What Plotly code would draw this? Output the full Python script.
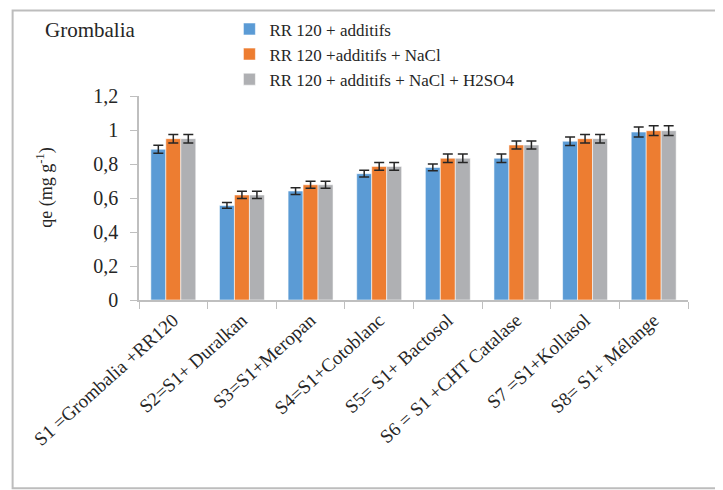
import plotly.graph_objects as go

categories = ["S1 =Grombalia +RR120", "S2=S1+ Duralkan", "S3=S1+Meropan", "S4=S1+Cotoblanc",
              "S5= S1+ Bactosol", "S6 = S1 +CHT Catalase", "S7 =S1+Kollasol", "S8= S1+ Mélange"]
series_names = ["RR 120 + additifs", "RR 120 +additifs + NaCl", "RR 120 + additifs + NaCl + H2SO4"]
vals_additifs = [0.887, 0.556, 0.641, 0.743, 0.780, 0.834, 0.934, 0.988]
vals_nacl = [0.949, 0.618, 0.678, 0.786, 0.834, 0.912, 0.949, 0.996]
vals_h2so4 = [0.949, 0.618, 0.678, 0.786, 0.834, 0.912, 0.949, 0.996]
err_additifs = [0.024, 0.017, 0.020, 0.020, 0.020, 0.025, 0.025, 0.029]
err_nacl = [0.025, 0.021, 0.021, 0.023, 0.025, 0.024, 0.025, 0.029]
err_h2so4 = [0.025, 0.021, 0.021, 0.023, 0.025, 0.024, 0.025, 0.029]
colors = ["#5B9BD5", "#ED7D31", "#AFB0B3"]

FONT = "Liberation Serif, Times New Roman, Times, serif"
TXT = "#262626"
fig = go.Figure()
for name, v, e, c in zip(series_names, [vals_additifs, vals_nacl, vals_h2so4],
                         [err_additifs, err_nacl, err_h2so4], colors):
    fig.add_trace(go.Bar(
        x=categories, y=v, name=name,
        marker=dict(color=c, line=dict(color="rgba(255,255,255,0.7)", width=0.8)),
        error_y=dict(type="data", array=e, color=TXT, thickness=1.5, width=5),
    ))

OFF = 8  # page body margin
W, H = 723 - OFF, 490 - OFF
L, R, T, B = 138.5 - OFF, 35, 95.7 - OFF, 190
pw, ph = W - L - R, H - T - B

def px(x):
    return (x - OFF - L) / pw

def py(y):
    return (H - B - (y - OFF)) / ph

fig.update_layout(
    width=W, height=H,
    margin=dict(l=L, r=R, t=T, b=B, pad=0, autoexpand=False),
    paper_bgcolor="white", plot_bgcolor="white",
    barmode="group", bargap=0.345, bargroupgap=0,
    separators=", ",
    font=dict(family=FONT, color=TXT, size=18),
    showlegend=True,
    legend=dict(x=px(229), y=py(11), xanchor="left", yanchor="top",
                font=dict(family=FONT, size=17, color=TXT),
                bgcolor="rgba(0,0,0,0)", tracegroupgap=0, itemwidth=30),
    xaxis=dict(showline=True, linecolor="#BFBFBF", linewidth=1.5,
               ticks="outside", tickson="boundaries", ticklen=7, tickcolor="#BFBFBF",
               tickangle=-42, tickfont=dict(family=FONT, size=19, color=TXT),
               showgrid=False, zeroline=False, automargin=False),
    yaxis=dict(range=[0, 1.2], dtick=0.2, tick0=0, showline=True, linecolor="#BFBFBF", linewidth=1.5,
               ticks="outside", ticklen=7, tickcolor="#BFBFBF", ticklabelstandoff=8,
               tickfont=dict(family=FONT, size=20, color=TXT),
               showgrid=False, zeroline=False, automargin=False),
    annotations=[
        dict(text="Grombalia", x=px(42), y=py(30), xref="paper", yref="paper",
             xanchor="left", yanchor="middle", showarrow=False,
             font=dict(family=FONT, size=21, color=TXT)),
        dict(text="qe (mg g<sup>-1</sup>)", x=px(45), y=py(188), xref="paper", yref="paper",
             xanchor="center", yanchor="middle", textangle=-90, showarrow=False,
             font=dict(family=FONT, size=18, color=TXT)),
    ],
    shapes=[
        dict(type="rect", xref="paper", yref="paper", x0=px(12), x1=px(760), y0=py(488.5), y1=py(10),
             line=dict(color="#BDBDBD", width=2), fillcolor="rgba(0,0,0,0)", layer="below"),
    ],
)

fig.write_html("out.html")
